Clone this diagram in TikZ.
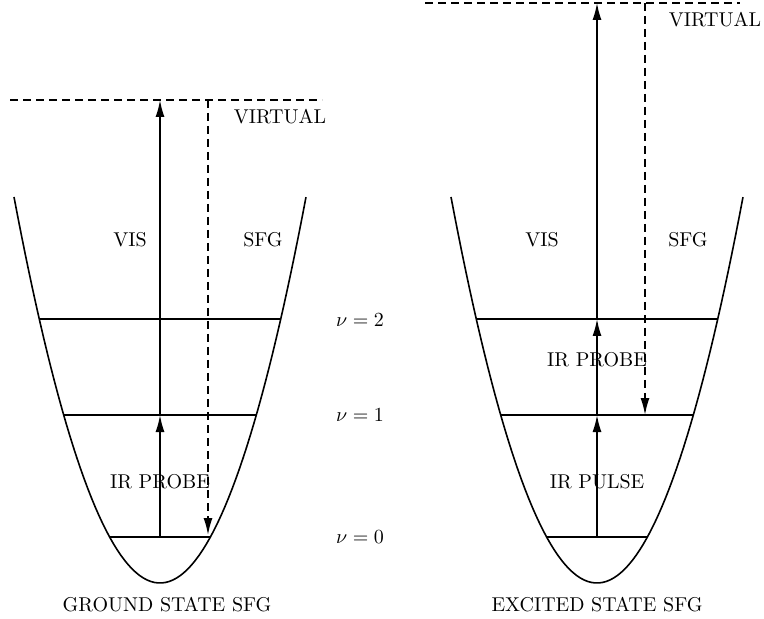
\documentclass[tikz,border=0pt]{standalone}
\usetikzlibrary{arrows.meta,positioning}
\tikzset{well/.style={line width=0.8pt},lvl/.style={line width=0.8pt},
 pump/.style={-{Latex[length=8.5pt,width=4.5pt]},line width=0.8pt},
 sfg/.style={-{Latex[length=8.5pt,width=4.5pt]},line width=0.8pt,dash pattern=on 4pt off 2.5pt},
 virt/.style={line width=0.8pt,dash pattern=on 4pt off 2.5pt},
 lbl/.style={inner sep=1pt}}

\begin{document}
\begin{tikzpicture}[x=0.5pt,y=-0.5pt]
\useasboundingbox (0,0) rectangle (764,619);
% potential wells
\draw[well] plot[domain=-1:1,samples=80] ({160+146*\x},{583-386*\x*\x});
\draw[well] plot[domain=-1:1,samples=80] ({597+146*\x},{583-386*\x*\x});
% vibrational levels
\foreach \c/\xc in {g/160,e/597}{
 \foreach \n/\y in {0/537,1/415,2/319}{
  \pgfmathsetmacro\dx{146*sqrt((583-\y)/386)}
  \coordinate (\c\n l) at ({\xc-\dx},\y);
  \coordinate (\c\n r) at ({\xc+\dx},\y);
  \coordinate (\c\n) at (\xc,\y);
  \draw[lvl] (\c\n l) -- (\c\n r);
 }}
% virtual states
\coordinate (gv) at (160,100);
\coordinate (gvl) at (10,100);
\coordinate (gvr) at (322,100);
\coordinate (ev) at (597,3);
\coordinate (evl) at (425,3);
\coordinate (evr) at (740,3);
\draw[virt] (gvl) -- (gvr);
\draw[virt] (evl) -- (evr);
\coordinate (gsa) at (208,100);
\coordinate (gsb) at (208,535);
\coordinate (esa) at (645,3);
\coordinate (esb) at (645,415);
% transitions
\draw[pump] (g0) -- (g1);
\draw[pump] (g1) -- (gv);
\draw[pump] (e0) -- (e1);
\draw[pump] (e1) -- (e2);
\draw[pump] (e2) -- (ev);
\draw[sfg] (gsa) -- (gsb);
\draw[sfg] (esa) -- (esb);
% labels
\node[lbl] (gvirt) at (280,117) {VIRTUAL};
\node[lbl] (gvis) at (130,240) {VIS};
\node[lbl] (gsfg) at (263,240) {SFG};
\node[lbl] (gir) at (160,482) {IR PROBE};
\node[lbl] (gname) at (167,605) {GROUND STATE SFG};
\node[lbl] (nu2) at (360,320) {$\nu=2$};
\node[lbl] (nu1) at (360,415) {$\nu=1$};
\node[lbl] (nu0) at (360,537) {$\nu=0$};
\node[lbl] (evirt) at (715,20) {VIRTUAL};
\node[lbl] (evis) at (542,240) {VIS};
\node[lbl] (esfg) at (688,240) {SFG};
\node[lbl] (eprobe) at (597,360) {IR PROBE};
\node[lbl] (epulse) at (597,482) {IR PULSE};
\node[lbl] (ename) at (597,605) {EXCITED STATE SFG};
\end{tikzpicture}
\end{document}
